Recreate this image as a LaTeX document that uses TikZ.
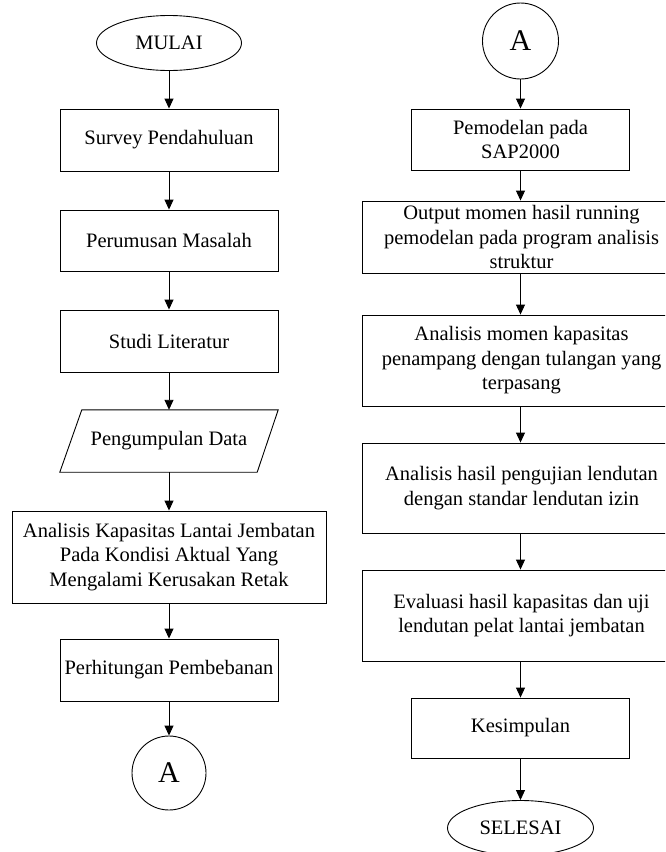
\documentclass[tikz,border=0pt]{standalone}
\usepackage{fontspec}
\setmainfont{Liberation Serif}
\usetikzlibrary{shapes.geometric,arrows.meta,calc}
\begin{document}
\begin{tikzpicture}[x=1pt,y=-1pt,
  every node/.style={font=\fontsize{20.5}{24.5}\selectfont, align=center, inner sep=0pt},
  box/.style={draw, line width=0.9pt, rectangle, minimum width=#1},
  box/.default=218,
  term/.style={draw, line width=0.9pt, ellipse, minimum width=145, minimum height=55},
  conn/.style={draw, line width=0.9pt, circle, minimum size=75, font=\fontsize{30}{30}\selectfont},
  arr/.style={line width=0.9pt, -{Triangle[width=9pt,length=10pt]}}
]
\useasboundingbox (0,0) rectangle (665,852);
\clip (0,0) rectangle (665,852);
\fill[white] (0,0) rectangle (665,852);

% left column
\node[term] (mulai) at (169,43) {MULAI};
\node[box, minimum height=62] (survey) at (169,140) {Survey Pendahuluan};
\node[box, minimum height=61] (perumusan) at (169,240.5) {Perumusan Masalah};
\node[box, minimum height=62] (studi) at (169,341) {Studi Literatur};
\node[minimum width=218, minimum height=62] (data) at (169,441) {Pengumpulan Data};
\draw[line width=0.9pt] (data.south west) -- ($(data.north west)+(22,0)$) -- (data.north east) -- ($(data.south east)+(-21,0)$) -- cycle;
\node[box=314, minimum height=92] (analisis) at (169,557) {Analisis Kapasitas Lantai Jembatan\\Pada Kondisi Aktual Yang\\Mengalami Kerusakan Retak};
\node[box, minimum height=62] (beban) at (169,670) {Perhitungan Pembebanan};
\node[conn, minimum size=74] (a1) at (169,773) {A};

\draw[arr] (mulai) -- (survey);
\draw[arr] (survey) -- (perumusan);
\draw[arr] (perumusan) -- (studi);
\draw[arr] (studi) -- (data);
\draw[arr] (data) -- (analisis);
\draw[arr] (analisis) -- (beban);
\draw[arr] (beban) -- (a1);

% right column
\node[conn, minimum size=76] (a2) at (520.5,41) {A};
\node[box=218, minimum height=61] (model) at (520.5,139.5) {Pemodelan pada\\SAP2000};
\node[box=318, minimum height=72] (output) at (521.5,237) {Output momen hasil running\\pemodelan pada program analisis\\struktur};
\node[box=318, minimum height=91] (momen) at (521.5,360.5) {Analisis momen kapasitas\\penampang dengan tulangan yang\\terpasang};
\node[box=318, minimum height=90] (hasil) at (521.5,488) {Analisis hasil pengujian lendutan\\dengan standar lendutan izin};
\node[box=318, minimum height=91] (eval) at (521.5,615.5) {Evaluasi hasil kapasitas dan uji\\lendutan pelat lantai jembatan};
\node[box=218, minimum height=60] (kesim) at (520.5,728) {Kesimpulan};
\node[term, minimum width=146] (selesai) at (520.5,828) {SELESAI};

\draw[arr] (a2) -- (model);
\draw[arr] (model) -- (model |- output.north);
\draw[arr] (output.south -| model) -- (model |- momen.north);
\draw[arr] (momen.south -| model) -- (model |- hasil.north);
\draw[arr] (hasil.south -| model) -- (model |- eval.north);
\draw[arr] (eval.south -| model) -- (kesim);
\draw[arr] (kesim) -- (selesai);
\end{tikzpicture}
\end{document}
